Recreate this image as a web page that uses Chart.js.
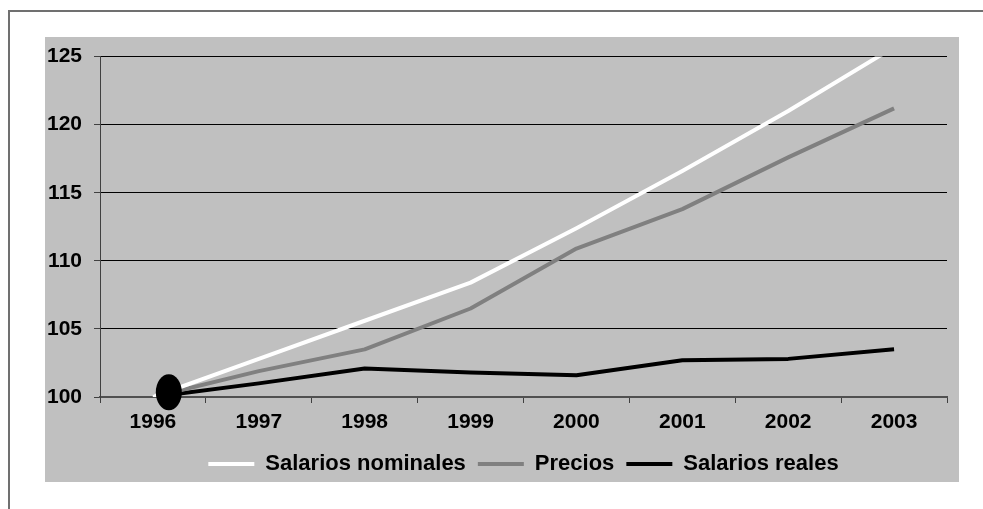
<!DOCTYPE html>
<html>
<head>
<meta charset="utf-8">
<script src="https://cdn.jsdelivr.net/npm/chart.js@4"></script>
<style>
  html, body { margin: 0; padding: 0; background: #ffffff; width: 983px; height: 509px; overflow: hidden; }
  #frame { position: absolute; left: 8px; top: 10px; right: 0; bottom: 0;
           border-top: 2px solid #707070; border-left: 2px solid #707070; }
  #panel { position: absolute; left: 45px; top: 37px; width: 914px; height: 445px; background: #c0c0c0; }
  #chart { position: absolute; left: 45px; top: 32px; display: block; }
</style>
</head>
<body>
<div id="frame"></div>
<div id="panel"></div>
<canvas id="chart" width="914" height="460"></canvas>
<script>
// Índices base 1996 = 100
const years = ['1996', '1997', '1998', '1999', '2000', '2001', '2002', '2003'];
const salariosNominales = [100, 102.8, 105.6, 108.4, 112.4, 116.6, 121.0, 125.7];
const precios           = [100, 101.9, 103.5, 106.5, 110.9, 113.8, 117.6, 121.2];
const salariosReales    = [100, 101.0, 102.1, 101.8, 101.6, 102.7, 102.8, 103.5];
const yTicks = [100, 105, 110, 115, 120, 125];

// dark oval sitting on the first point of the series (data units)
const ovalMark = { x: 0.15, y: 100.35 };

const FONT = "'Liberation Sans', Arial, sans-serif";

const ovalPlugin = {
  id: 'ovalMark',
  afterDatasetsDraw(chart) {
    const xs = chart.scales.x, ys = chart.scales.y;
    const x0 = xs.getPixelForValue(0), x1 = xs.getPixelForValue(1);
    const cx = x0 + ovalMark.x * (x1 - x0);
    const cy = ys.getPixelForValue(ovalMark.y);
    const ctx = chart.ctx;
    ctx.save();
    ctx.fillStyle = '#000000';
    ctx.beginPath();
    ctx.ellipse(cx, cy, 13, 18, 0, 0, Math.PI * 2);
    ctx.fill();
    ctx.restore();
  }
};

// centre the legend under the plot area rather than the whole canvas
const legendCentre = {
  id: 'legendCentre',
  afterLayout(chart) {
    const lg = chart.legend;
    if (!lg) return;
    const d = (chart.chartArea.left + chart.chartArea.right) / 2 - (lg.left + lg.right) / 2;
    lg.left += d; lg.right += d;
  }
};

new Chart(document.getElementById('chart'), {
  type: 'line',
  data: {
    labels: years,
    datasets: [
      { label: 'Salarios nominales', data: salariosNominales, borderColor: '#ffffff', backgroundColor: '#ffffff',
        borderWidth: 4, pointRadius: 0, tension: 0, borderJoinStyle: 'round' },
      { label: 'Precios', data: precios, borderColor: '#808080', backgroundColor: '#808080',
        borderWidth: 4, pointRadius: 0, tension: 0, borderJoinStyle: 'round' },
      { label: 'Salarios reales', data: salariosReales, borderColor: '#000000', backgroundColor: '#000000',
        borderWidth: 4, pointRadius: 0, tension: 0, borderJoinStyle: 'round' }
    ]
  },
  options: {
    responsive: false,
    animation: false,
    devicePixelRatio: 1,
    layout: { padding: { top: 14, right: 12, left: 0, bottom: 7 } },
    plugins: {
      tooltip: { enabled: false },
      title: { display: false },
      legend: {
        position: 'bottom',
        align: 'center',
        labels: {
          usePointStyle: true,
          pointStyle: 'line',
          pointStyleWidth: 46,
          padding: 12,
          color: '#000000',
          font: { family: FONT, size: 22, weight: 'bold' }
        }
      }
    },
    scales: {
      x: {
        type: 'category',
        offset: true,
        afterFit(s) { s.height = 44; },
        grid: { offset: true, drawOnChartArea: false, drawTicks: true, tickLength: 6, color: '#404040', lineWidth: 1 },
        border: { display: true, color: '#505050', width: 2 },
        ticks: { color: '#000000', padding: 7, maxRotation: 0, font: { family: FONT, size: 21, weight: 'bold' } }
      },
      y: {
        min: yTicks[0],
        max: yTicks[yTicks.length - 1],
        afterFit(s) { s.width = 55; },
        afterBuildTicks(s) { s.ticks = yTicks.map(v => ({ value: v })); },
        grid: { color: '#000000', lineWidth: 1, drawTicks: true, tickLength: 6, tickColor: '#404040' },
        border: { display: true, color: '#404040', width: 1 },
        ticks: { color: '#000000', padding: 12, font: { family: FONT, size: 21, weight: 'bold' } }
      }
    }
  },
  plugins: [ovalPlugin, legendCentre]
});
</script>
</body>
</html>
